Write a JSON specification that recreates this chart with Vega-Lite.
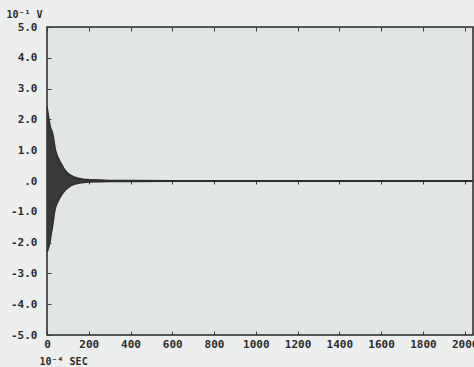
{
  "$schema": "https://vega.github.io/schema/vega-lite/v6.json",
  "width": 426,
  "height": 308,
  "autosize": {"type": "none"},
  "padding": {"left": 47, "top": 27, "right": 1, "bottom": 32},
  "background": "#edefef",
  "config": {
    "view": {"fill": "#e2e5e5", "stroke": "#262626", "strokeWidth": 1.5},
    "font": "DejaVu Sans Mono",
    "axis": {
      "labelFont": "DejaVu Sans Mono",
      "labelFontWeight": "bold",
      "labelFontSize": 11,
      "labelColor": "#2b2b2b",
      "titleFont": "DejaVu Sans Mono",
      "titleFontWeight": "bold",
      "titleFontSize": 10,
      "titleColor": "#2b2b2b",
      "tickColor": "#3a3a3a",
      "tickWidth": 1,
      "domain": false,
      "grid": false
    }
  },
  "data": {
    "values": [
      {"t": 0, "hi": 2.4, "lo": -2.3},
      {"t": 4, "hi": 2.25, "lo": -2.25},
      {"t": 8, "hi": 2.05, "lo": -2.15},
      {"t": 12, "hi": 1.9, "lo": -2.05},
      {"t": 16, "hi": 1.75, "lo": -1.9},
      {"t": 20, "hi": 1.68, "lo": -1.72},
      {"t": 25, "hi": 1.6, "lo": -1.55},
      {"t": 30, "hi": 1.45, "lo": -1.3},
      {"t": 35, "hi": 1.22, "lo": -1.05},
      {"t": 40, "hi": 1.02, "lo": -0.88},
      {"t": 45, "hi": 0.9, "lo": -0.78},
      {"t": 50, "hi": 0.8, "lo": -0.7},
      {"t": 60, "hi": 0.66, "lo": -0.56},
      {"t": 70, "hi": 0.54, "lo": -0.45},
      {"t": 80, "hi": 0.42, "lo": -0.36},
      {"t": 90, "hi": 0.32, "lo": -0.28},
      {"t": 100, "hi": 0.25, "lo": -0.22},
      {"t": 115, "hi": 0.18, "lo": -0.15},
      {"t": 130, "hi": 0.13, "lo": -0.11},
      {"t": 150, "hi": 0.09, "lo": -0.075},
      {"t": 175, "hi": 0.06, "lo": -0.05},
      {"t": 200, "hi": 0.045, "lo": -0.035},
      {"t": 250, "hi": 0.03, "lo": -0.025},
      {"t": 300, "hi": 0.02, "lo": -0.02},
      {"t": 400, "hi": 0.015, "lo": -0.015},
      {"t": 600, "hi": 0.012, "lo": -0.012},
      {"t": 800, "hi": 0.01, "lo": -0.01},
      {"t": 1200, "hi": 0.01, "lo": -0.01},
      {"t": 1600, "hi": 0.01, "lo": -0.01},
      {"t": 2040, "hi": 0.01, "lo": -0.01}
    ]
  },
  "layer": [
    {
      "mark": {"type": "area", "color": "#383838", "opacity": 1},
      "encoding": {
        "x": {
          "field": "t", "type": "quantitative",
          "scale": {"domain": [0, 2040], "nice": false},
          "axis": {
            "orient": "bottom",
            "values": [0, 200, 400, 600, 800, 1000, 1200, 1400, 1600, 1800, 2000],
            "format": "d",
            "tickSize": -4,
            "labelPadding": 7,
            "labelFlush": false,
            "title": "10⁻⁴  SEC",
            "titleAlign": "left",
            "titleBaseline": "alphabetic",
            "titleAnchor": "start",
            "titleX": -8,
            "titleY": 29
          }
        },
        "y": {
          "field": "hi", "type": "quantitative",
          "scale": {"domain": [-5, 5], "nice": false},
          "axis": {
            "orient": "left",
            "values": [-5, -4, -3, -2, -1, 0, 1, 2, 3, 4, 5],
            "labelExpr": "datum.value == 0 ? '.0' : (datum.value < 0 ? '-' : '') + format(abs(datum.value), '.1f')",
            "tickSize": -4,
            "labelPadding": 14,
            "labelFlush": false,
            "title": "10⁻¹   V",
            "titleAngle": 0,
            "titleAlign": "left",
            "titleBaseline": "alphabetic",
            "titleAnchor": "start",
            "titleX": -41,
            "titleY": -10
          }
        },
        "y2": {"field": "lo"}
      }
    },
    {
      "mark": {"type": "line", "color": "#2e2e2e", "strokeWidth": 1.5},
      "encoding": {
        "x": {
          "field": "t", "type": "quantitative",
          "scale": {"domain": [0, 2040], "nice": false},
          "axis": {
            "orient": "top",
            "values": [0, 200, 400, 600, 800, 1000, 1200, 1400, 1600, 1800, 2000],
            "labels": false,
            "tickSize": -4,
            "title": null
          }
        },
        "y": {"field": "hi", "type": "quantitative", "scale": {"domain": [-5, 5], "nice": false}, "axis": null}
      }
    },
    {
      "mark": {"type": "line", "color": "#2e2e2e", "strokeWidth": 1.5},
      "encoding": {
        "x": {
          "field": "t", "type": "quantitative",
          "scale": {"domain": [0, 2040], "nice": false},
          "axis": {
            "orient": "bottom",
            "offset": -154,
            "values": [0, 200, 400, 600, 800, 1000, 1200, 1400, 1600, 1800, 2000],
            "labels": false,
            "tickSize": 3,
            "title": null
          }
        },
        "y": {"field": "lo", "type": "quantitative", "scale": {"domain": [-5, 5], "nice": false}, "axis": null}
      }
    }
  ],
  "resolve": {"axis": {"x": "independent", "y": "independent"}}
}
